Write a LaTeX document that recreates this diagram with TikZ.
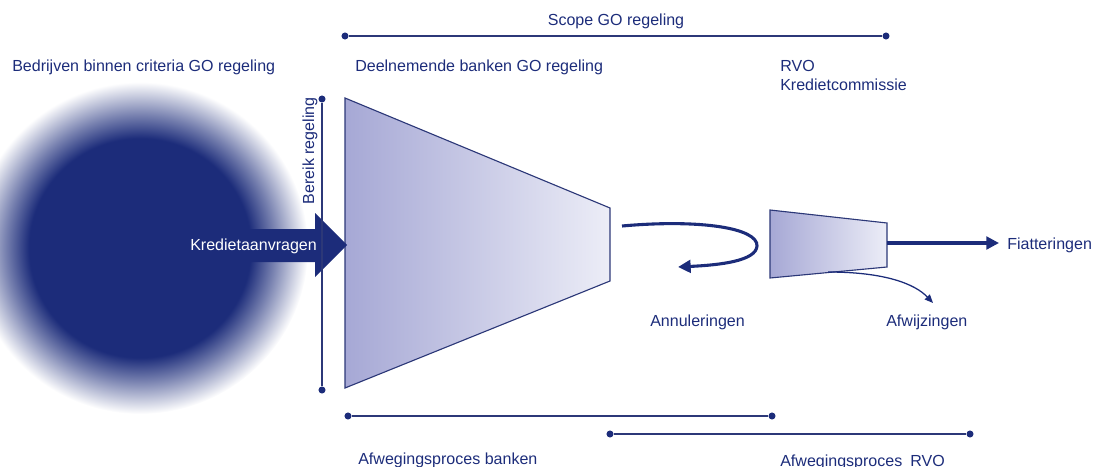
\documentclass[tikz,border=0pt]{standalone}
\usepackage{fontspec}
\setmainfont{Liberation Sans}
\usetikzlibrary{positioning,arrows.meta}

\definecolor{navy}{RGB}{28,44,122}
\definecolor{lineblue}{RGB}{44,56,120}
\definecolor{fillleft}{RGB}{166,168,213}
\definecolor{fillright}{RGB}{236,237,247}
\pgfdeclareradialshading{blob}{\pgfpointorigin}{color(0bp)=(navy); color(16.5bp)=(navy); color(20bp)=(navy!60); color(25bp)=(white); color(50bp)=(white)}

\begin{document}
\begin{tikzpicture}[x=0.025cm,y=-0.025cm,
	txt/.style={text=navy,font=\fontsize{11.4}{13.5}\selectfont,inner sep=0pt,anchor=base west},
	rng/.style={draw=lineblue,line width=1.1pt},
	dot/.style={circle,fill=navy,inner sep=0pt,minimum size=5pt},
	funnel/.style={left color=fillleft,right color=fillright,draw=lineblue,line width=0.8pt},
	flow/.style={draw=navy,line width=2.2pt,-{Triangle[length=9pt,width=9pt]}}]
	\useasboundingbox (0,0) rectangle (1095,466);
	\clip (0,0) rectangle (1095,466);

	% blob of companies
	\shade[shading=blob] (140,248) ellipse [x radius=168, y radius=166];

	% funnels
	\coordinate (b_nw) at (345,98);  \coordinate (b_ne) at (610,208);
	\coordinate (b_se) at (610,281); \coordinate (b_sw) at (345,388);
	\coordinate (r_nw) at (770,210); \coordinate (r_ne) at (887,223);
	\coordinate (r_se) at (887,267); \coordinate (r_sw) at (770,278);
	\path[funnel] (b_nw) -- (b_ne) -- (b_se) -- (b_sw) -- cycle;
	\path[funnel] (r_nw) -- (r_ne) -- (r_se) -- (r_sw) -- cycle;

	% incoming requests
	\fill[navy] (180,229) -- (315,229) -- (315,213) -- (347,245) -- (315,277) -- (315,262) -- (180,262) -- cycle;
	\node[txt,text=white] (kred) at (190,250) {Kredietaanvragen};

	% ranges
	\node[dot] (scope_l) at (345,36) {};
	\node[dot] (scope_r) at (886,36) {};
	\node[dot] (bereik_t) at (322,99) {};
	\node[dot] (bereik_b) at (322,390) {};
	\node[dot] (afw_bl) at (348,416) {};
	\node[dot] (afw_br) at (772,416) {};
	\node[dot] (afw_rl) at (610,434) {};
	\node[dot] (afw_rr) at (970,434) {};
	\draw[rng] (scope_l) -- (scope_r);
	\draw[rng] (bereik_t) -- (bereik_b);
	\draw[rng] (afw_bl) -- (afw_br);
	\draw[rng] (afw_rl) -- (afw_rr);

	% labels
	\node[txt,anchor=base] (scope) at (616,26) {Scope GO regeling};
	\node[txt] (bedrijven) at (12,72) {Bedrijven binnen criteria GO regeling};
	\node[txt] (banken) at (355,72) {Deelnemende banken GO regeling};
	\node[txt] (rvo) at (780,72) {RVO};
	\node[txt] (commissie) at (780,91) {Kredietcommissie};
	\node[txt,rotate=90,anchor=base east] (bereik) at (314,97) {Bereik regeling};
	\node[txt] (annul) at (650,326) {Annuleringen};
	\node[txt] (afwijz) at (886,326) {Afwijzingen};
	\node[txt] (fiat) at (1007,249) {Fiatteringen};
	\node[txt] (proc_b) at (358,464) {Afwegingsproces banken};
	\node[txt] (proc_r) at (780,466) {Afwegingsproces\enspace RVO};

	% outflows
	\coordinate (annul_s) at (622,226);
	\coordinate (annul_e) at (678,267);
	\coordinate (fiat_s) at (887,243);
	\coordinate (fiat_e) at (999,243);
	\coordinate (afw_s) at (828,272);
	\coordinate (afw_e) at (933,303);
	\draw[flow] (annul_s) .. controls (700,219) and (758,228) .. (757,246)
		.. controls (756,261) and (720,265) .. (annul_e);
	\draw[flow] (fiat_s) -- (fiat_e);
	\draw[draw=navy,line width=0.9pt,-{Triangle[length=6pt,width=5pt]}] (afw_s) .. controls (885,272) and (915,284) .. (afw_e);
\end{tikzpicture}
\end{document}
